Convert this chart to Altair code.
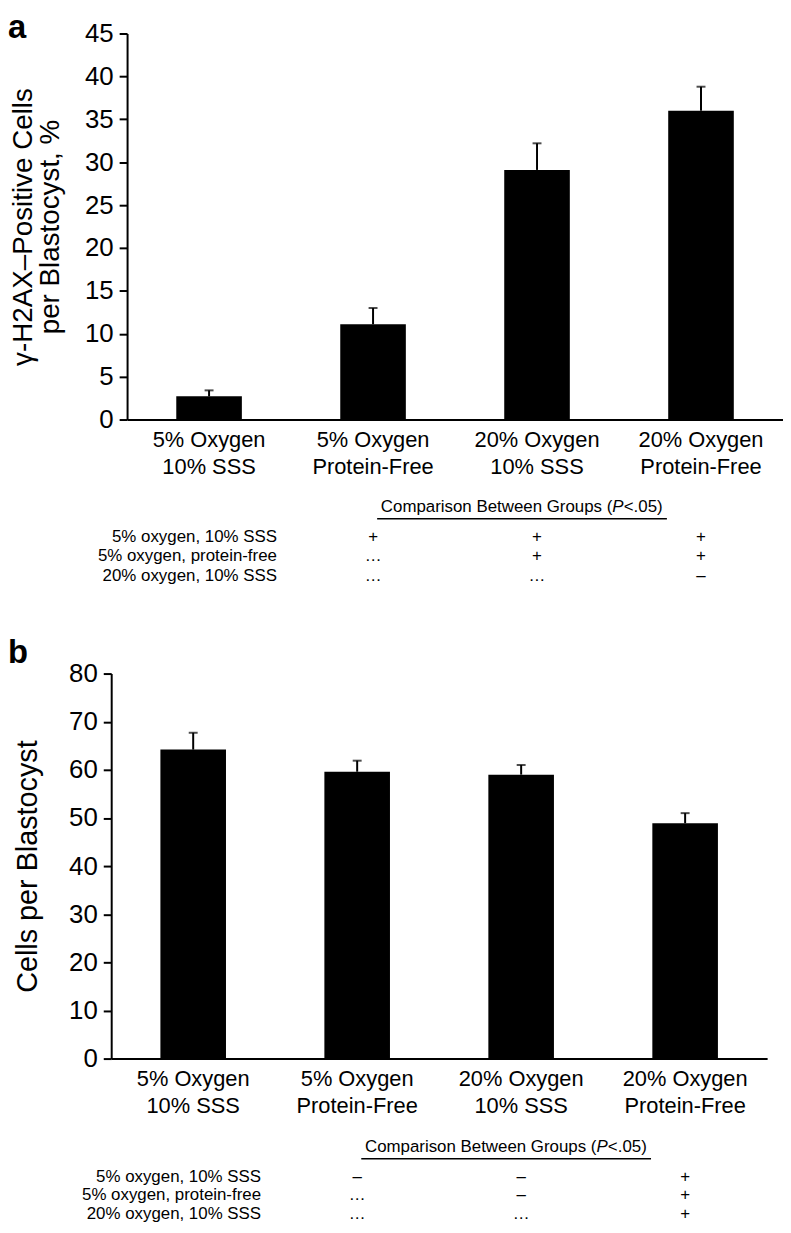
import altair as alt
import pandas as pd

# ---- data ----
groups = ["5% Oxygen|10% SSS", "5% Oxygen|Protein-Free", "20% Oxygen|10% SSS", "20% Oxygen|Protein-Free"]

h2ax_mean = [2.7, 11.1, 29.1, 36.0]
h2ax_sem = [0.7, 1.9, 3.1, 2.8]

cells_mean = [64.2, 59.6, 59.0, 48.9]
cells_sem = [3.5, 2.3, 2.0, 2.1]

comp_rows = ["5% oxygen, 10% SSS", "5% oxygen, protein-free", "20% oxygen, 10% SSS"]
comp_cols = groups[1:]
sig_a = [["+", "+", "+"], ["…", "+", "+"], ["…", "…", "–"]]
sig_b = [["–", "–", "+"], ["…", "–", "+"], ["…", "…", "+"]]

header_parts = ["Comparison Between Groups (", "P", "<.05)"]

title_a = ["γ-H2AX–Positive Cells", "per Blastocyst, %"]
title_b = "Cells per Blastocyst"

PLOT_W = 661
FONT = "Liberation Sans"


def panel(letter, means, sems, sig, ymax, ystep, ytitle, height, title_x, title_size,
          shift, letter_y, tbl):
    # shift: how far (px) this panel's axis sits right of the shared column origin
    # tbl: vertical offsets below the x axis (header, underline, row1, row3)
    df = pd.DataFrame({
        "group": groups,
        "mean": means,
        "upper": [m + s for m, s in zip(means, sems)],
    })
    width = PLOT_W + shift
    xs = alt.Scale(domain=groups, paddingInner=0.6, paddingOuter=0.3, range=[shift, width])
    ys = alt.Scale(domain=[0, ymax], nice=False, zero=True)

    x_axis = alt.Axis(
        title=None, labelExpr="split(datum.label, '|')", labelAngle=0,
        ticks=False, tickSize=0, labelPadding=10.5, labelFontSize=22,
        labelLineHeight=27, labelColor="black", domainColor="black",
        domainWidth=2, labelFont=FONT, labelOverlap=False,
    )
    y_axis = alt.Axis(
        title=ytitle, values=list(range(0, ymax + 1, ystep)), grid=False,
        ticks=True, tickSize=8, tickWidth=2, tickColor="black",
        domainColor="black", domainWidth=2, labelFontSize=26, labelPadding=6,
        labelColor="black", labelFont=FONT, titleFont=FONT, offset=-shift,
        titleFontSize=title_size, titleFontWeight="normal", titleColor="black",
        titleX=title_x, titleY=height / 2, titleBaseline="alphabetic",
        titleAlign="center", titleAngle=270, titleLineHeight=27,
    )

    X = alt.X("group:N", scale=xs, axis=x_axis, sort=groups)

    bars = alt.Chart(df).mark_bar(color="black").encode(
        x=X,
        y=alt.Y("mean:Q", scale=ys, axis=y_axis),
    )
    rules = alt.Chart(df).mark_rule(color="black", strokeWidth=2).encode(
        x=X,
        y=alt.Y("mean:Q", scale=ys, axis=y_axis),
        y2="upper:Q",
    )
    caps = alt.Chart(df).mark_tick(color="black", size=9, thickness=2).encode(
        x=X,
        y=alt.Y("upper:Q", scale=ys, axis=y_axis),
    )
    plot = alt.layer(bars, rules, caps)

    # comparison table
    h_off, u_off, r1_off, r3_off = tbl
    tdf = pd.DataFrame([
        {"row": r, "group": c, "sym": sig[i][j]}
        for i, r in enumerate(comp_rows) for j, c in enumerate(comp_cols)
    ])
    row_scale = alt.Scale(domain=comp_rows, range=[height + r1_off, height + r3_off], padding=0)
    syms = alt.Chart(tdf).mark_text(fontSize=17, baseline="alphabetic", color="black", font=FONT).encode(
        x=X,
        y=alt.Y("row:N", scale=row_scale, axis=None),
        text="sym:N",
    )
    rlabels = alt.Chart(pd.DataFrame({"row": comp_rows})).mark_text(
        fontSize=17, baseline="alphabetic", align="right", color="black", font=FONT
    ).encode(
        x=alt.value(shift + 151),
        y=alt.Y("row:N", scale=row_scale, axis=None),
        text="row:N",
    )
    hy = height + h_off
    h1 = alt.Chart(pd.DataFrame({"t": [header_parts[0]]})).mark_text(
        fontSize=17, baseline="alphabetic", align="right", color="black", font=FONT
    ).encode(x=alt.value(shift + 489), y=alt.value(hy), text="t:N")
    h2 = alt.Chart(pd.DataFrame({"t": [header_parts[1]]})).mark_text(
        fontSize=17, baseline="alphabetic", align="left", color="black", font=FONT, fontStyle="italic"
    ).encode(x=alt.value(shift + 489), y=alt.value(hy), text="t:N")
    h3 = alt.Chart(pd.DataFrame({"t": [header_parts[2]]})).mark_text(
        fontSize=17, baseline="alphabetic", align="left", color="black", font=FONT
    ).encode(x=alt.value(shift + 500.5), y=alt.value(hy), text="t:N")
    uline = alt.Chart(pd.DataFrame({"t": [0]})).mark_rule(color="black", strokeWidth=1.5).encode(
        x=alt.value(shift + 252), x2=alt.value(shift + 544), y=alt.value(height + u_off)
    )
    plabel = alt.Chart(pd.DataFrame({"t": [letter]})).mark_text(
        fontSize=33, fontWeight="bold", baseline="alphabetic", align="left", color="black", font=FONT
    ).encode(x=alt.value(-104), y=alt.value(letter_y), text="t:N")

    table = alt.layer(syms, rlabels, h1, h2, h3, uline, plabel)
    return alt.layer(plot, table).resolve_scale(y="independent").properties(width=width, height=height)


pa = panel("a", h2ax_mean, h2ax_sem, sig_a, 45, 5, title_a, 389, -96, 28, 16, 5,
           (93, 100, 123, 163))
pb = panel("b", cells_mean, cells_sem, sig_b, 80, 10, title_b, 388, -75, 29, 0, -11,
           (94, 101, 124, 162))

chart = alt.vconcat(pa, pb, spacing=53).properties(
    padding={"left": 0, "top": 0, "right": 0, "bottom": 0}
).configure(font=FONT).configure_view(strokeWidth=0)

chart.save("out.html", embed_options={"renderer": "svg", "actions": False})
